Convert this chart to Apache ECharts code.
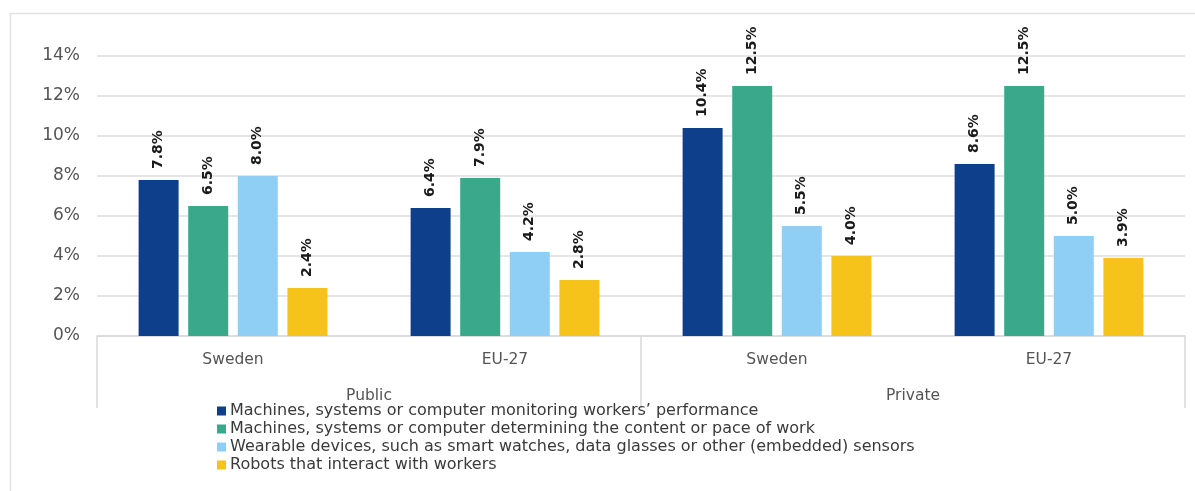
<!DOCTYPE html>
<html>
<head>
<meta charset="utf-8">
<script src="https://cdn.jsdelivr.net/npm/echarts@6/dist/echarts.min.js"></script>
<style>
  html, body { margin: 0; padding: 0; background: #fff; }
  #chart { width: 1195px; height: 491px; }
</style>
</head>
<body>
<div id="chart"></div>
<script>
// Countries within each sector, and the sector groups beneath them
const countries = ['Sweden', 'EU-27', 'Sweden', 'EU-27'];
const sectors = ['Public', 'Private'];

// Share of workplaces using each technology (%)
const seriesNames = [
  'Machines, systems or computer monitoring workers\u2019 performance',
  'Machines, systems or computer determining the content or pace of work',
  'Wearable devices, such as smart watches, data glasses or other (embedded) sensors',
  'Robots that interact with workers'
];
const monitoring = [7.8, 6.4, 10.4, 8.6];
const pacing = [6.5, 7.9, 12.5, 12.5];
const wearables = [8.0, 4.2, 5.5, 5.0];
const robots = [2.4, 2.8, 4.0, 3.9];

const yTicks = [0, 2, 4, 6, 8, 10, 12, 14];

const colors = ['#0d3f8b', '#3aa88a', '#8fcff5', '#f6c31a'];
const FONT = '"DejaVu Sans", "Open Sans", sans-serif';

const chart = echarts.init(document.getElementById('chart'), null, { renderer: 'canvas' });

function barSeries(name, data, color) {
  return {
    name: name,
    type: 'bar',
    data: data,
    barWidth: 40,
    barGap: '24%',
    itemStyle: { color: color },
    label: {
      show: true,
      position: 'top',
      distance: 11,
      rotate: 90,
      align: 'left',
      verticalAlign: 'middle',
      formatter: p => p.value.toFixed(1) + '%',
      fontFamily: FONT,
      fontWeight: 'bold',
      fontSize: 14,
      color: '#1a1a1a'
    }
  };
}

chart.setOption({
  animation: false,
  textStyle: { fontFamily: FONT },
  grid: { left: 97, right: 10, top: 56, bottom: 155, containLabel: false },
  legend: {
    orient: 'vertical',
    left: 212,
    top: 397,
    itemWidth: 9,
    itemHeight: 9,
    itemGap: 0,
    icon: 'rect',
    textStyle: { fontFamily: FONT, fontSize: 16, lineHeight: 18, color: '#3a3a3a', padding: [0, 0, 0, -1] },
    data: seriesNames
  },
  xAxis: [
    {
      type: 'category',
      data: countries,
      axisLine: { show: true, lineStyle: { color: '#d9d9d9', width: 1.5 } },
      axisTick: { show: false },
      axisLabel: { margin: 16, fontSize: 15.5, color: '#555', fontFamily: FONT }
    },
    {
      type: 'category',
      data: sectors,
      position: 'bottom',
      axisLine: { show: false },
      axisTick: { show: true, length: 72, lineStyle: { color: '#d9d9d9', width: 1.5 } },
      axisLabel: { margin: 52, fontSize: 15.5, color: '#555', fontFamily: FONT }
    }
  ],
  yAxis: {
    type: 'value',
    min: 0,
    max: 14,
    interval: 2,
    axisLine: { show: false },
    axisTick: { show: false },
    splitLine: { lineStyle: { color: '#dedede', width: 1.5 } },
    axisLabel: {
      margin: 17,
      fontSize: 17,
      color: '#555',
      fontFamily: FONT,
      formatter: v => (yTicks.indexOf(v) >= 0 ? v + '%' : '')
    }
  },
  series: [
    barSeries(seriesNames[0], monitoring, colors[0]),
    barSeries(seriesNames[1], pacing, colors[1]),
    barSeries(seriesNames[2], wearables, colors[2]),
    barSeries(seriesNames[3], robots, colors[3])
  ],
  graphic: [
    {
      type: 'polyline',
      silent: true,
      shape: { points: [[10.5, 500], [10.5, 13.5], [1200, 13.5]] },
      style: { fill: null, stroke: '#e2e2e2', lineWidth: 1.5 }
    }
  ]
});
</script>
</body>
</html>
